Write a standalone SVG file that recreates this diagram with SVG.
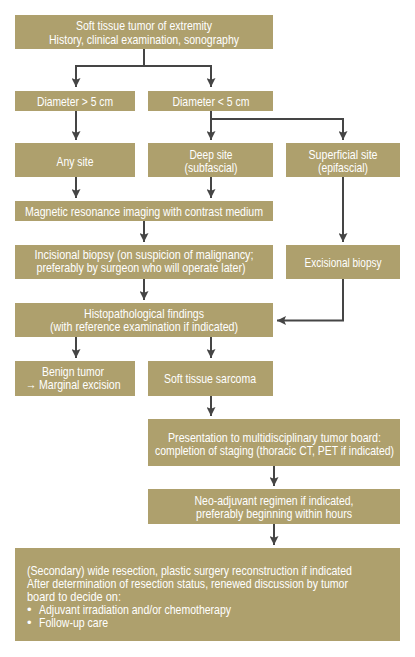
<svg xmlns="http://www.w3.org/2000/svg" width="415" height="657" viewBox="0 0 415 657">
<defs>
<style>
.box{fill:#AEA06D;}
.t{font-family:"Liberation Sans Narrow","Arial Narrow","Liberation Sans",sans-serif;font-size:13px;fill:#ffffff;text-anchor:middle;}
.l{text-anchor:start;}
.c{fill:none;stroke:#454545;stroke-width:2;}
</style>
<marker id="ah" viewBox="0 0 10 10" refX="10" refY="5" markerWidth="4.5" markerHeight="4.5" orient="auto" markerUnits="strokeWidth">
<path d="M0,0 L10,5 L0,10 L2,5 Z" fill="#454545"/>
</marker>
</defs>
<rect width="415" height="657" fill="#ffffff"/>
<g id="connectors">
<path class="c" d="M144,49 V66 H76 V87" marker-end="url(#ah)"/>
<path class="c" d="M144,66 H211 V87" marker-end="url(#ah)"/>
<path class="c" d="M76,111 V140" marker-end="url(#ah)"/>
<path class="c" d="M211,111 V140" marker-end="url(#ah)"/>
<path class="c" d="M211,119 H343 V140" marker-end="url(#ah)"/>
<path class="c" d="M76,177 V198" marker-end="url(#ah)"/>
<path class="c" d="M211,177 V198" marker-end="url(#ah)"/>
<path class="c" d="M144,221 V242" marker-end="url(#ah)"/>
<path class="c" d="M343,177 V242" marker-end="url(#ah)"/>
<path class="c" d="M144,279 V300" marker-end="url(#ah)"/>
<path class="c" d="M343,279 V320.5 H277" marker-end="url(#ah)"/>
<path class="c" d="M76,337 V358" marker-end="url(#ah)"/>
<path class="c" d="M211,337 V358" marker-end="url(#ah)"/>
<path class="c" d="M211,396 V416" marker-end="url(#ah)"/>
<path class="c" d="M274,466 V486" marker-end="url(#ah)"/>
<path class="c" d="M274,524 V545" marker-end="url(#ah)"/>
</g>
<g id="n-start">
<rect class="box" x="15" y="15" width="258" height="34"/>
<text class="t" x="144" y="30" textLength="136" lengthAdjust="spacingAndGlyphs">Soft tissue tumor of extremity</text>
<text class="t" x="144" y="43.5" textLength="190" lengthAdjust="spacingAndGlyphs">History, clinical examination, sonography</text>
</g>
<g id="n-dgt5">
<rect class="box" x="15" y="91" width="120" height="20"/>
<text class="t" x="75" y="105.5" textLength="76" lengthAdjust="spacingAndGlyphs">Diameter &gt; 5 cm</text>
</g>
<g id="n-dlt5">
<rect class="box" x="148" y="91" width="125" height="20"/>
<text class="t" x="211" y="105.5" textLength="77" lengthAdjust="spacingAndGlyphs">Diameter &lt; 5 cm</text>
</g>
<g id="n-any">
<rect class="box" x="15" y="143" width="120" height="34"/>
<text class="t" x="75" y="166" textLength="37" lengthAdjust="spacingAndGlyphs">Any site</text>
</g>
<g id="n-deep">
<rect class="box" x="148" y="143" width="125" height="34"/>
<text class="t" x="211" y="158.5" textLength="43" lengthAdjust="spacingAndGlyphs">Deep site</text>
<text class="t" x="211" y="171.5" textLength="53" lengthAdjust="spacingAndGlyphs">(subfascial)</text>
</g>
<g id="n-superficial">
<rect class="box" x="286" y="143" width="114" height="34"/>
<text class="t" x="343" y="158.5" textLength="69" lengthAdjust="spacingAndGlyphs">Superficial site</text>
<text class="t" x="343" y="171.5" textLength="50" lengthAdjust="spacingAndGlyphs">(epifascial)</text>
</g>
<g id="n-mri">
<rect class="box" x="15" y="201" width="258" height="20"/>
<text class="t" x="144" y="215.5" textLength="238" lengthAdjust="spacingAndGlyphs">Magnetic resonance imaging with contrast medium</text>
</g>
<g id="n-incisional">
<rect class="box" x="15" y="245" width="258" height="34"/>
<text class="t" x="144" y="259" textLength="219" lengthAdjust="spacingAndGlyphs">Incisional biopsy (on suspicion of malignancy;</text>
<text class="t" x="141" y="272" textLength="209" lengthAdjust="spacingAndGlyphs">preferably by surgeon who will operate later)</text>
</g>
<g id="n-excisional">
<rect class="box" x="286" y="245" width="114" height="34"/>
<text class="t" x="343" y="266.5" textLength="77" lengthAdjust="spacingAndGlyphs">Excisional biopsy</text>
</g>
<g id="n-histo">
<rect class="box" x="15" y="303" width="258" height="34"/>
<text class="t" x="144" y="318" textLength="120" lengthAdjust="spacingAndGlyphs">Histopathological findings</text>
<text class="t" x="144" y="330.5" textLength="188" lengthAdjust="spacingAndGlyphs">(with reference examination if indicated)</text>
</g>
<g id="n-benign">
<rect class="box" x="15" y="361" width="120" height="35"/>
<text class="t" x="73" y="376" textLength="62" lengthAdjust="spacingAndGlyphs">Benign tumor</text>
<text class="t" x="73" y="389" textLength="95" lengthAdjust="spacingAndGlyphs">→ Marginal excision</text>
</g>
<g id="n-sarcoma">
<rect class="box" x="148" y="361" width="125" height="35"/>
<text class="t" x="210" y="383" textLength="92" lengthAdjust="spacingAndGlyphs">Soft tissue sarcoma</text>
</g>
<g id="n-board">
<rect class="box" x="148" y="419" width="252" height="47"/>
<text class="t" x="274.5" y="442" textLength="213" lengthAdjust="spacingAndGlyphs">Presentation to multidisciplinary tumor board:</text>
<text class="t" x="274.5" y="455" textLength="239" lengthAdjust="spacingAndGlyphs">completion of staging (thoracic CT, PET if indicated)</text>
</g>
<g id="n-neo">
<rect class="box" x="148" y="489" width="252" height="35"/>
<text class="t" x="274" y="505" textLength="159" lengthAdjust="spacingAndGlyphs">Neo-adjuvant regimen if indicated,</text>
<text class="t" x="274" y="517.5" textLength="156" lengthAdjust="spacingAndGlyphs">preferably beginning within hours</text>
</g>
<g id="n-resection">
<rect class="box" x="15" y="548" width="385" height="93"/>
<text class="t l" x="27" y="575" textLength="325" lengthAdjust="spacingAndGlyphs">(Secondary) wide resection, plastic surgery reconstruction if indicated</text>
<text class="t l" x="27" y="588" textLength="321" lengthAdjust="spacingAndGlyphs">After determination of resection status, renewed discussion by tumor</text>
<text class="t l" x="27" y="601" textLength="94" lengthAdjust="spacingAndGlyphs">board to decide on:</text>
<text class="t l" x="27" y="614">•</text>
<text class="t l" x="39" y="614" textLength="192" lengthAdjust="spacingAndGlyphs">Adjuvant irradiation and/or chemotherapy</text>
<text class="t l" x="27" y="627">•</text>
<text class="t l" x="39" y="627" textLength="69" lengthAdjust="spacingAndGlyphs">Follow-up care</text>
</g>
</svg>
